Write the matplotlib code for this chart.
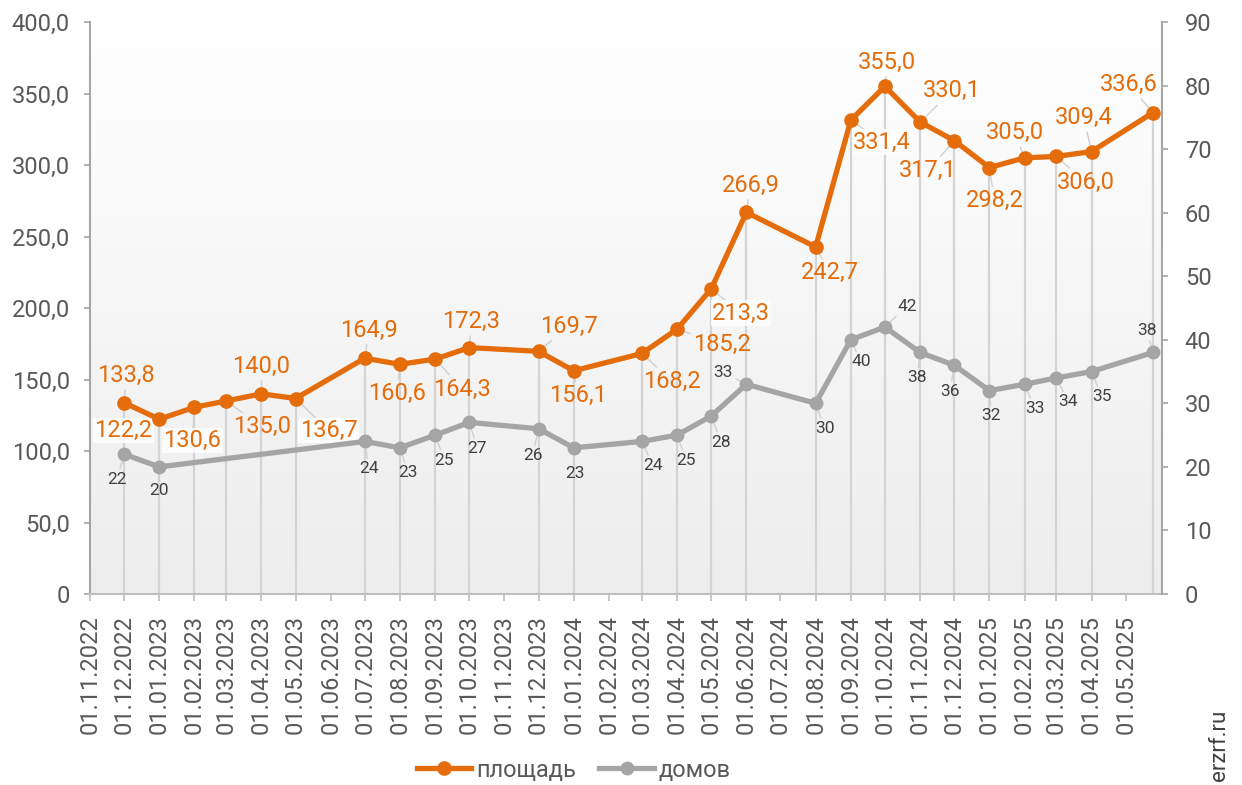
import numpy as np
import pandas as pd
import matplotlib
matplotlib.use('Agg')
import matplotlib.pyplot as plt
from matplotlib.ticker import FuncFormatter, MultipleLocator
import matplotlib.dates as mdates

plt.rcParams['font.family'] = ['Roboto', 'DejaVu Sans']

# площадь (left axis)
area_dates = pd.to_datetime([
    '01.12.2022', '01.01.2023', '01.02.2023', '01.03.2023', '01.04.2023', '01.05.2023',
    '01.07.2023', '01.08.2023', '01.09.2023', '01.10.2023', '01.12.2023', '01.01.2024',
    '01.03.2024', '01.04.2024', '01.05.2024', '01.06.2024', '01.08.2024', '01.09.2024',
    '01.10.2024', '01.11.2024', '01.12.2024', '01.01.2025', '01.02.2025', '01.03.2025',
    '01.04.2025', '25.05.2025'], dayfirst=True)
area_values = [133.8, 122.2, 130.6, 135.0, 140.0, 136.7, 164.9, 160.6, 164.3, 172.3,
               169.7, 156.1, 168.2, 185.2, 213.3, 266.9, 242.7, 331.4, 355.0, 330.1,
               317.1, 298.2, 305.0, 306.0, 309.4, 336.6]

# домов (right axis)
house_dates = pd.to_datetime([
    '01.12.2022', '01.01.2023', '01.07.2023', '01.08.2023', '01.09.2023', '01.10.2023',
    '01.12.2023', '01.01.2024', '01.03.2024', '01.04.2024', '01.05.2024', '01.06.2024',
    '01.08.2024', '01.09.2024', '01.10.2024', '01.11.2024', '01.12.2024', '01.01.2025',
    '01.02.2025', '01.03.2025', '01.04.2025', '25.05.2025'], dayfirst=True)
house_values = [22, 20, 24, 23, 25, 27, 26, 23, 24, 25, 28, 33, 30, 40, 42, 38, 36, 32,
                33, 34, 35, 38]

# label offsets in pixels (dx right, dy down)
area_offsets = [(2, -27), (-36, 11), (-2, 33), (36, 26), (0, -27), (33, 32), (4, -28),
                (-3, 29), (27, 30), (2, -26), (30, -25), (4, 25), (30, 28), (45, 15),
                (30, 24), (4, -27), (14, 26), (31, 22), (2, -24), (32, -31), (-26, 30),
                (5, 33), (-10, -25), (29, 26), (-8, -34), (-24, -28)]
area_boxed = [False, True, True, False, False, True, False, False, False, False, False,
              False, False, False, True, False, False, True, False, False, False, False,
              False, False, False, False]
house_offsets = [(-7, 25), (0, 24), (4, 27), (8, 25), (9, 25), (8, 26), (-6, 27), (1, 26),
                 (11, 24), (9, 25), (10, 26), (-23, -12), (9, 25), (10, 22), (22, -21),
                 (-3, 25), (-4, 26), (2, 25), (10, 24), (12, 24), (10, 25), (-6, -22)]

ORANGE = '#E46C0A'
GREY = '#A5A5A5'
TXT = '#595959'
W, H = 1242, 785

fig = plt.figure(figsize=(W / 100, H / 100), dpi=100)
pos = [90 / W, 1 - 594 / H, (1162 - 90) / W, (594 - 22) / H]

# gradient background
bg = fig.add_axes(pos, zorder=-1)
grad = np.linspace(1.0, 0.93, 256).reshape(-1, 1)
bg.imshow(np.dstack([grad, grad, grad]), aspect='auto', extent=[0, 1, 0, 1])
bg.axis('off')

ax = fig.add_axes(pos)
ax.patch.set_visible(False)
ax2 = ax.twinx()

ax.vlines(area_dates, 0, area_values, color='#D4D4D4', lw=1.6, zorder=1)
l1, = ax.plot(area_dates, area_values, color=ORANGE, lw=3.8, marker='o', ms=9.5,
              zorder=3, label='площадь')
l2, = ax2.plot(house_dates, house_values, color=GREY, lw=3.8, marker='o', ms=9,
               zorder=3, label='домов')

for d, v, (dx, dy), box in zip(area_dates, area_values, area_offsets, area_boxed):
    ax.annotate(f'{v:.1f}'.replace('.', ','), (d, v), xytext=(dx, -dy),
                textcoords='offset pixels', ha='center', va='center', color=ORANGE,
                fontsize=17, zorder=2,
                bbox=dict(boxstyle='square,pad=0.05', fc='white', ec='none', alpha=0.8) if box else None,
                arrowprops=dict(arrowstyle='-', color='#D0D0D0', lw=1, shrinkA=0, shrinkB=0))

for d, v, (dx, dy) in zip(house_dates, house_values, house_offsets):
    ax2.annotate(str(v), (d, v), xytext=(dx, -dy), textcoords='offset pixels',
                 ha='center', va='center', color='#404040', fontsize=12.5, zorder=2,
                 arrowprops=dict(arrowstyle='-', color='#D0D0D0', lw=1, shrinkA=0, shrinkB=0))

ax.set_ylim(0, 400)
ax2.set_ylim(0, 90)
ax.yaxis.set_major_locator(MultipleLocator(50))
ax2.yaxis.set_major_locator(MultipleLocator(10))
ax.yaxis.set_major_formatter(FuncFormatter(lambda v, p: '0' if v == 0 else f'{v:.1f}'.replace('.', ',')))
ax2.yaxis.set_major_formatter(FuncFormatter(lambda v, p: f'{v:.0f}'))

ax.set_xticks(pd.date_range('2022-11-01', '2025-05-01', freq='MS'))
ax.xaxis.set_major_formatter(mdates.DateFormatter('%d.%m.%Y'))
ax.set_xlim(pd.Timestamp('2022-11-01'), pd.Timestamp('2025-06-02'))

for s in ['top', 'right']:
    ax.spines[s].set_visible(False)
for s in ['top', 'left', 'bottom']:
    ax2.spines[s].set_visible(False)
ax.spines['left'].set_color('#A6A6A6')
ax.spines['left'].set_linewidth(1.5)
ax.spines['bottom'].set_color('#BFBFBF')
ax.spines['bottom'].set_linewidth(1.5)
ax2.spines['right'].set_color('#A6A6A6')
ax2.spines['right'].set_linewidth(1.5)

ax.tick_params(axis='y', length=4.5, width=1.2, color='#A6A6A6', labelcolor=TXT,
               labelsize=17, pad=10)
ax2.tick_params(axis='y', length=4.5, width=1.2, color='#A6A6A6', labelcolor=TXT,
                labelsize=17, pad=12)
ax.tick_params(axis='x', length=5, width=1.2, color='#BFBFBF', labelcolor=TXT,
               labelsize=17, pad=10, labelrotation=90)

fig.legend([l1, l2], ['площадь', 'домов'], loc='center', bbox_to_anchor=(0.462, 0.019),
           ncol=2, frameon=False, fontsize=17, handlelength=2.3, handletextpad=0.2,
           columnspacing=1.0, labelcolor=TXT)

fig.text(0.982, 0.051, 'erzrf.ru', rotation=90, fontsize=16, color='#404040',
         ha='center', va='center')

fig.savefig('out.png', dpi=100)
